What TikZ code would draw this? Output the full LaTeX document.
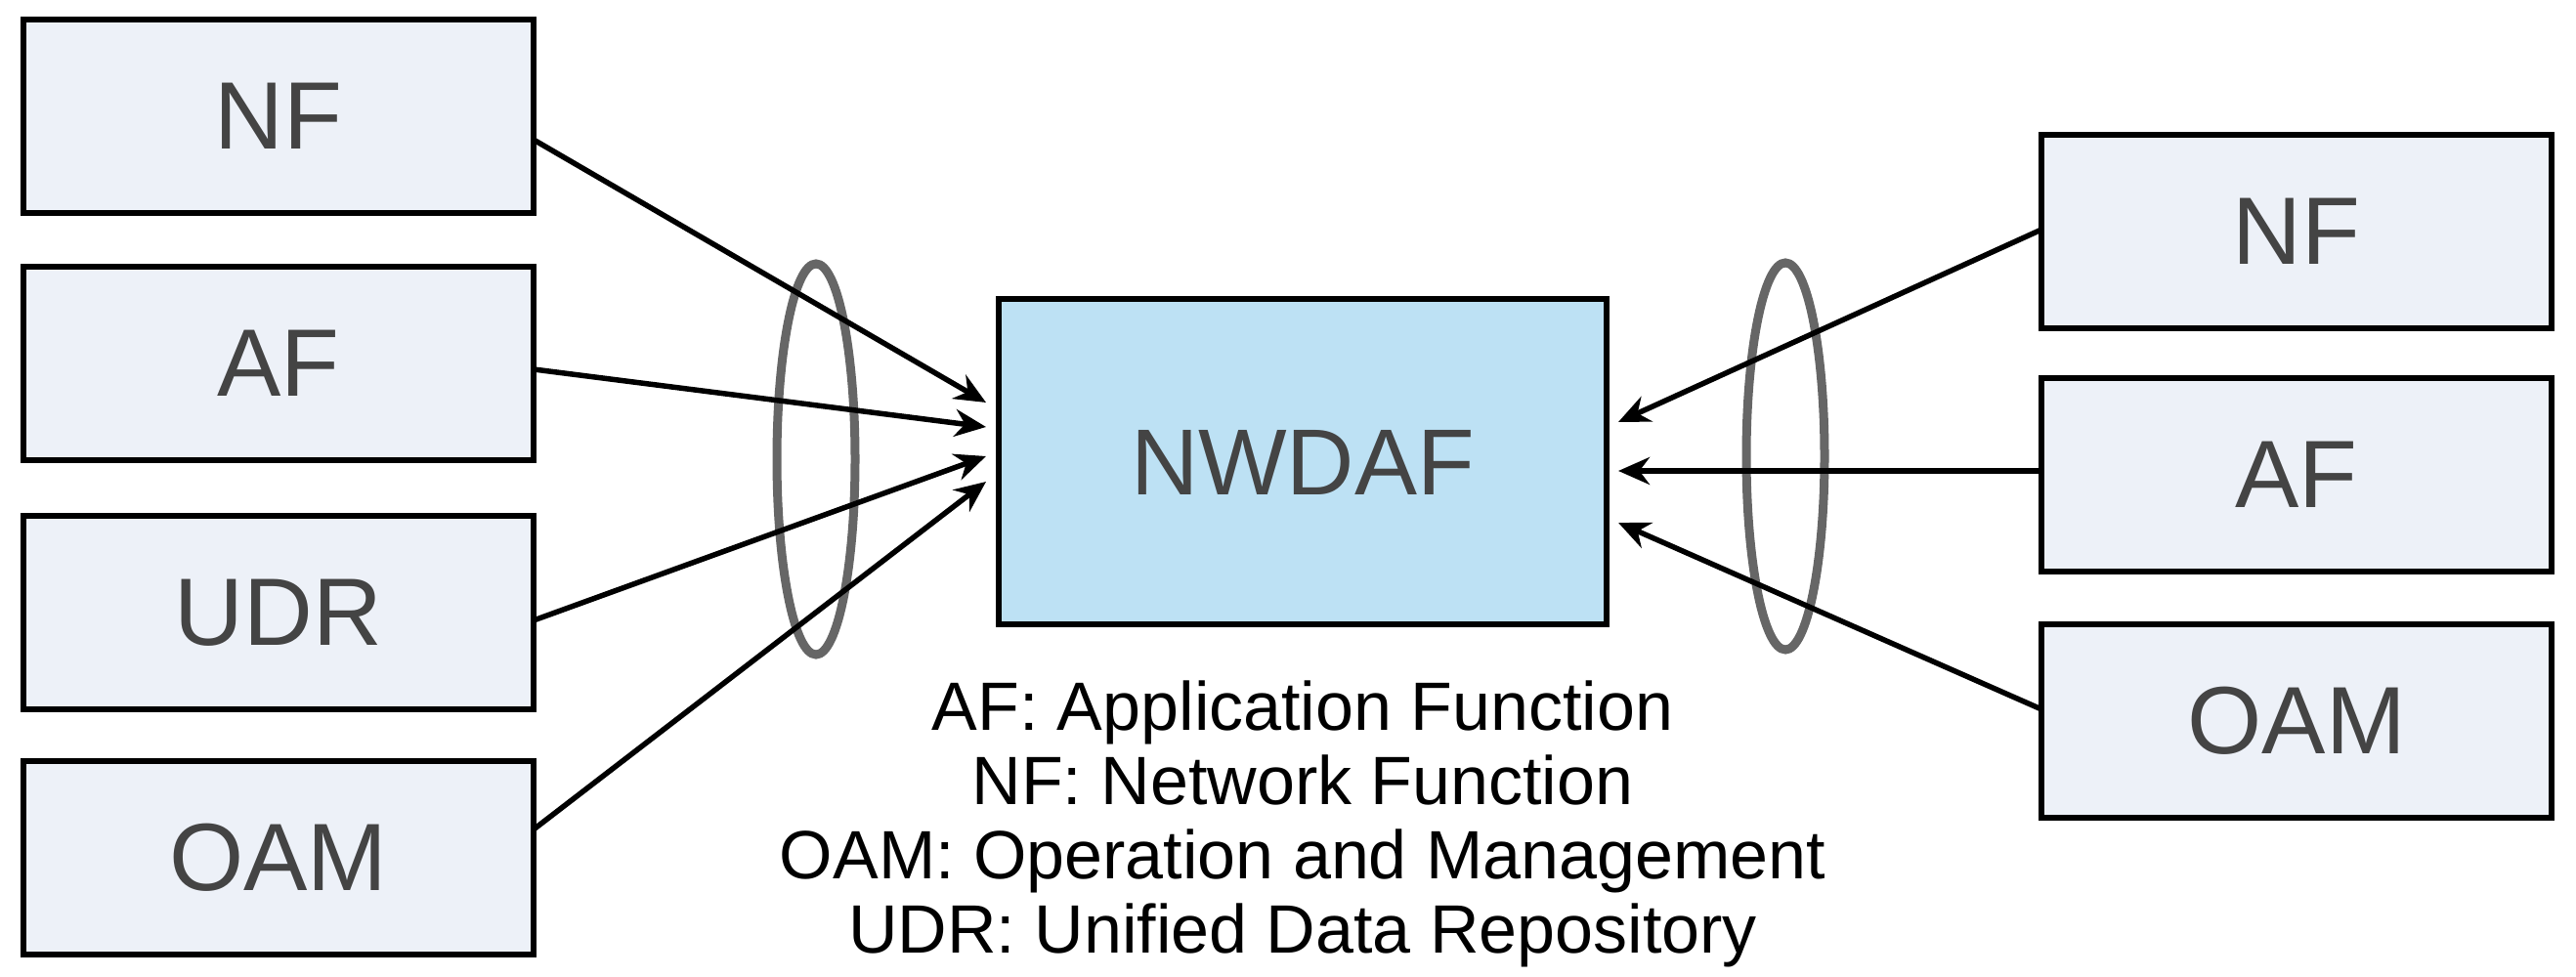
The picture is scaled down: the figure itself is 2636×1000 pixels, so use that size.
\documentclass[tikz,border=0pt]{standalone}
\usepackage{fontspec}
\setmainfont{Liberation Sans}
\usetikzlibrary{arrows.meta}
\definecolor{boxfill}{HTML}{EDF1F8}
\definecolor{nwfill}{HTML}{BDE1F4}
\definecolor{txt}{HTML}{444444}
\begin{document}
\begin{tikzpicture}[x=1pt,y=1pt,
  box/.style={draw=black,line width=6pt,fill=boxfill,minimum width=522pt,minimum height=198pt,inner sep=0pt,font=\fontsize{98}{104}\selectfont,text=txt},
  arr/.style={line width=5.5pt,-{Stealth[length=32pt,width=28pt]}},
  lens/.style={draw=black!60,line width=9pt},
  leg/.style={font=\fontsize{70}{76}\selectfont}]
\useasboundingbox (0,0) rectangle (2636,1000);
\node[box] (lnf) at (285,881) {NF};
\node[box] (laf) at (285,628) {AF};
\node[box] (ludr) at (285,373) {UDR};
\node[box] (loam) at (285,122) {OAM};
\node[box,fill=nwfill,minimum width=622pt,minimum height=333pt,font=\fontsize{96}{104}\selectfont] (nw) at (1333,527) {NWDAF};
\node[box] (rnf) at (2350,763) {NF};
\node[box] (raf) at (2350,514) {AF};
\node[box] (roam) at (2350,262) {OAM};
\draw[lens] (835,530) ellipse (40 and 200);
\draw[lens] (1827,533) ellipse (40 and 198);
\coordinate (e1) at (1009,588);
\coordinate (e2) at (1009,563);
\coordinate (e3) at (1009,533);
\coordinate (e4) at (1009,507);
\coordinate (s1) at (546,857);
\coordinate (s2) at (546,622);
\coordinate (s3) at (546,365);
\coordinate (s4) at (546,151);
\draw[arr] (s1) -- (e1);
\draw[arr] (s2) -- (e2);
\draw[arr] (s3) -- (e3);
\draw[arr] (s4) -- (e4);
\coordinate (f1) at (1656,568);
\coordinate (f2) at (1656,518);
\coordinate (f3) at (1656,465);
\coordinate (t1) at (2089,765);
\coordinate (t2) at (2089,518);
\coordinate (t3) at (2089,274);
\draw[arr] (t1) -- (f1);
\draw[arr] (t2) -- (f2);
\draw[arr] (t3) -- (f3);
\node[leg,anchor=base] (l1) at (1333,252) {AF: Application Function};
\node[leg,anchor=base] (l2) at (1333,176) {NF: Network Function};
\node[leg,anchor=base] (l3) at (1333,100) {OAM: Operation and Management};
\node[leg,anchor=base] (l4) at (1333,24) {UDR: Unified Data Repository};
\end{tikzpicture}
\end{document}
